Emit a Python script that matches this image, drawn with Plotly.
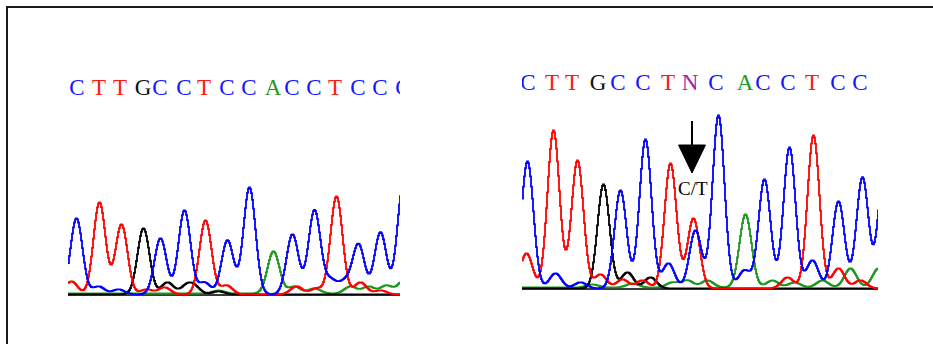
import numpy as np
import plotly.graph_objects as go

W, H = 933, 344

# ---------------- Left panel (wild type) ----------------
L_BASES = list("CTTGCCTCCACCTCCC")
L_BASE_POS = [9, 31, 52, 75, 92, 116, 136, 159, 181, 205, 224, 246, 267, 290, 312, 335]

L_C_POS = [8, 30, 50, 92, 116, 136, 159, 181, 224, 246, 262, 276, 290, 312, 335]      # blue
L_C_HT  = [76, 8, 5, 56, 84, 12, 54, 107, 60, 84, 14, 12, 50, 62, 112]
L_T_POS = [3, 31, 53, 78, 96, 137, 158, 228, 248, 268, 292, 312]                       # red
L_T_HT  = [13, 92, 70, 5, 7, 74, 9, 8, 6, 98, 12, 4]
L_G_POS = [75, 99, 118, 126, 150]                                                      # black
L_G_HT  = [66, 12, 8, 7, 3]
L_A_POS = [150, 205, 226, 246, 282, 300, 318, 336]                                     # green
L_A_HT  = [3, 42, 7, 5, 7, 7, 8, 14]
L_FLOOR = 1.5

# ---------------- Right panel (heterozygous C/T) ----------------
R_BASES = list("CTTGCCTNCACCTCC")
R_BASE_POS = [6, 30, 50, 76, 96, 121, 146, 168, 194, 223, 241, 266, 290, 316, 338]
VARIANT_POS = 170
VARIANT_LABEL = "C/T"

R_C_POS = [5, 33, 58, 98, 123, 146, 173, 196, 222, 242, 267, 290, 316, 340, 362]      # blue
R_C_HT  = [127, 15, 6, 98, 149, 25, 58, 173, 18, 109, 141, 28, 87, 111, 125]
R_T_POS = [4, 31, 55, 78, 100, 120, 148, 171, 265, 291, 316, 338]                     # red
R_T_HT  = [35, 158, 128, 14, 9, 8, 125, 70, 11, 153, 20, 8]
R_G_POS = [81, 105, 128]                                                               # black
R_G_HT  = [104, 16, 11]
R_A_POS = [70, 110, 150, 165, 185, 223, 250, 272, 300, 328, 356]                      # green
R_A_HT  = [3, 4, 5, 7, 7, 73, 7, 5, 7, 19, 19]
R_FLOOR = 1.5

BASE_COLORS = {"C": "#1515ff", "T": "#ff1a10", "G": "#111111", "A": "#1e9a1e", "N": "#a21fa6"}
TRACE_COLORS = {"C": "#0000ff", "T": "#ff0000", "G": "#000000", "A": "#1c961c"}

SIGMA = 6.0


def trace_curve(xs, pos, ht, floor=0.0):
    y = np.full_like(xs, floor, dtype=float)
    for p, h in zip(pos, ht):
        y += h * np.exp(-((xs - p) ** 2) / (2 * SIGMA ** 2))
    return y


fig = go.Figure()

panels = [
    dict(ax="x", ay="y", xmax=332, bases=L_BASES, bpos=L_BASE_POS, letter_y=206,
         ch={"A": (L_A_POS, L_A_HT), "G": (L_G_POS, L_G_HT), "T": (L_T_POS, L_T_HT), "C": (L_C_POS, L_C_HT)},
         floor=L_FLOOR),
    dict(ax="x2", ay="y2", xmax=356, bases=R_BASES, bpos=R_BASE_POS, letter_y=205,
         ch={"A": (R_A_POS, R_A_HT), "G": (R_G_POS, R_G_HT), "T": (R_T_POS, R_T_HT), "C": (R_C_POS, R_C_HT)},
         floor=R_FLOOR),
]

for pn in panels:
    xs = np.arange(0, pn["xmax"] + 1, 1.0)
    fig.add_trace(go.Scatter(x=[0, pn["xmax"]], y=[0, 0], mode="lines",
                             line=dict(color="#3a3a3a", width=2.2),
                             xaxis=pn["ax"], yaxis=pn["ay"], hoverinfo="skip"))
    for base in ["A", "G", "T", "C"]:
        pos, ht = pn["ch"][base]
        fl = pn["floor"] if base == "A" else 0.6
        ys = trace_curve(xs, pos, ht, fl)
        fig.add_trace(go.Scatter(x=xs, y=ys, mode="lines", line_shape="hv",
                                 line=dict(color=TRACE_COLORS[base], width=1.8),
                                 xaxis=pn["ax"], yaxis=pn["ay"], hoverinfo="skip"))
    fig.add_trace(go.Scatter(
        x=pn["bpos"], y=[pn["letter_y"]] * len(pn["bpos"]), mode="text",
        text=pn["bases"], cliponaxis=True,
        textfont=dict(family="Liberation Serif", size=23,
                      color=[BASE_COLORS[b] for b in pn["bases"]]),
        xaxis=pn["ax"], yaxis=pn["ay"], hoverinfo="skip"))

# Variant arrow and label on right panel
fig.add_shape(type="line", xref="x2", yref="y2", x0=VARIANT_POS, x1=VARIANT_POS, y0=168, y1=143,
              line=dict(color="black", width=2))
fig.add_shape(type="path", xref="x2", yref="y2",
              path=f"M {VARIANT_POS-13.5},144 L {VARIANT_POS+13.5},144 L {VARIANT_POS},116 Z",
              fillcolor="black", line=dict(color="black", width=1))
fig.add_annotation(x=VARIANT_POS + 1, y=101, xref="x2", yref="y2", text=VARIANT_LABEL,
                   showarrow=False, font=dict(family="Liberation Serif", size=19, color="black"))

# Outer border
fig.add_shape(type="rect", xref="paper", yref="paper",
              x0=7 / W, x1=(W + 10) / W, y0=1 - 7 / H, y1=-0.2,
              line=dict(color="#1a1a1a", width=2))


def ydom(base_px, lo, hi):
    return [1 - (base_px - lo) / H, 1 - (base_px - hi) / H]


fig.update_layout(
    width=W, height=H, margin=dict(l=0, r=0, t=0, b=0),
    paper_bgcolor="white", plot_bgcolor="white", showlegend=False,
    xaxis=dict(domain=[68 / W, 400 / W], range=[0, 332], visible=False),
    yaxis=dict(domain=ydom(295, -3, 226), range=[-3, 226], visible=False),
    xaxis2=dict(domain=[522 / W, 878 / W], range=[0, 356], visible=False, anchor="y2"),
    yaxis2=dict(domain=ydom(289, -3, 232), range=[-3, 232], visible=False, anchor="x2"),
)

fig.write_html("out.html", config={"displayModeBar": False},
               post_script="document.body.style.margin='0';document.body.style.overflow='hidden';")
